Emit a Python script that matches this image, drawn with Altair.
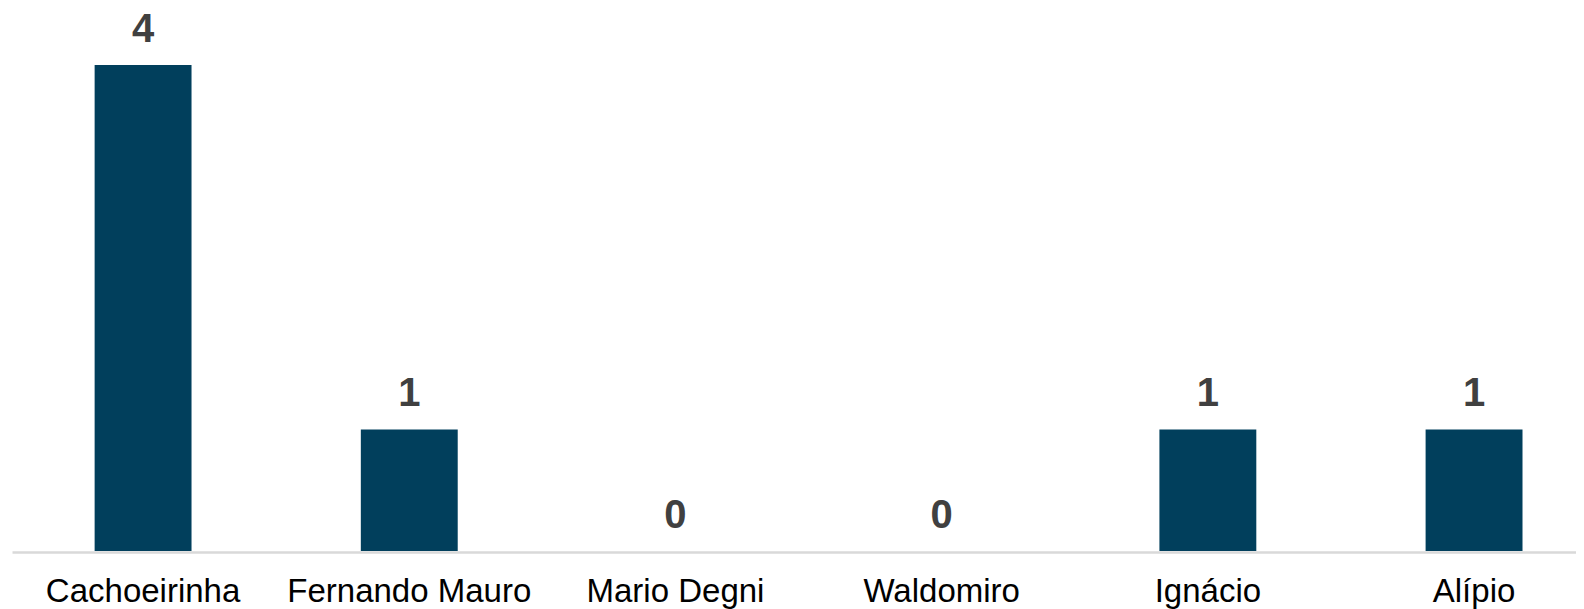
import altair as alt
import pandas as pd

categories = ["Cachoeirinha", "Fernando Mauro", "Mario Degni", "Waldomiro", "Ignácio", "Alípio"]
values = [4, 1, 0, 0, 1, 1]

df = pd.DataFrame({"cat": categories, "val": values})

x = alt.X("cat:N", sort=categories,
          scale=alt.Scale(paddingInner=0.636, paddingOuter=0.2557, align=0.607),
          axis=alt.Axis(title=None, labelAngle=0, labelFont="Liberation Sans",
                        labelFontSize=33, labelColor="#000000", labelPadding=49,
                        labelBaseline="alphabetic",
                        labelLimit=0, ticks=False, domainColor="#d9d9d9", domainWidth=2.5,
                        offset=1, labelOverlap=False))
y = alt.Y("val:Q", scale=alt.Scale(domain=[0, 4], nice=False, zero=True), axis=None)

bars = alt.Chart(df).mark_bar(color="#013f5c").encode(x=x, y=y)
labels = alt.Chart(df).mark_text(font="Liberation Sans", fontSize=40, fontWeight="bold",
                                 color="#404040", dy=-23.5, baseline="alphabetic",
                                 clip=False).encode(x=x, y=y, text="val:Q")

chart = (bars + labels).properties(
    width=1564, height=486,
    autosize=alt.AutoSizeParams(type="none"),
    padding={"left": 4, "top": 57, "right": 0, "bottom": 60},
).configure(background="white").configure_view(stroke=None, strokeWidth=0)

chart.save("out.html", embed_options={"renderer": "svg", "actions": False})
